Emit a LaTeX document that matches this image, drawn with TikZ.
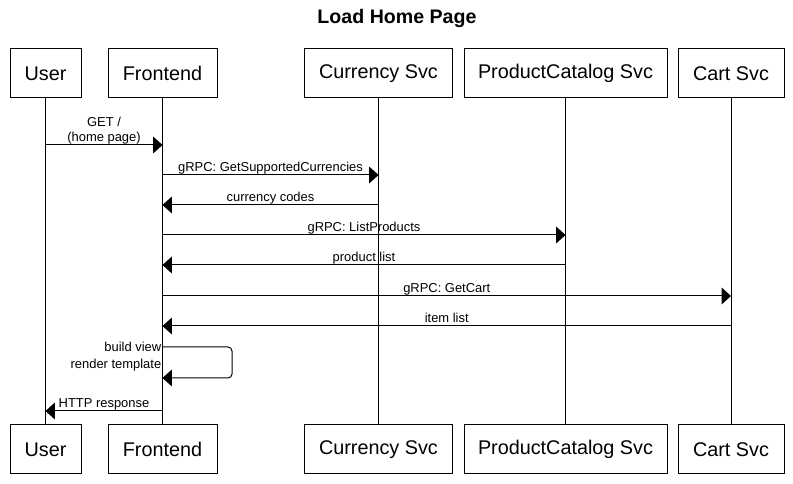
\documentclass[tikz,border=0pt]{standalone}
\usepackage{fontspec}
\setmainfont{Liberation Sans}
\usetikzlibrary{arrows.meta}
\begin{document}
\begin{tikzpicture}[x=0.75pt,y=-0.75pt,
  actor/.style={draw,line width=0.75pt,minimum height=36.75pt,inner sep=0pt,
    font=\fontsize{14.85}{17}\selectfont},
  life/.style={line width=0.75pt},
  msg/.style={line width=0.75pt,-{Triangle[length=7pt,width=12.5pt]}},
  lbl/.style={font=\fontsize{9.7}{11.25}\selectfont,inner sep=0pt}]
\path[use as bounding box,fill=white] (0,0) rectangle (793,484);
\node[font=\bfseries\fontsize{14.7}{17}\selectfont] (title) at (397,18) {Load Home Page};
% top actors
\node[actor,minimum width=53.25pt] (uT) at (45.5,73.5) {User};
\node[actor,minimum width=81.75pt] (fT) at (162.5,73.5) {Frontend};
\node[actor,minimum width=111pt] (cT) at (378.5,73.5) {Currency Svc};
\node[actor,minimum width=152.25pt] (pT) at (565.5,73.5) {ProductCatalog Svc};
\node[actor,minimum width=79.5pt] (kT) at (731,73.5) {Cart Svc};
% bottom actors
\node[actor,minimum width=53.25pt] (uB) at (45.5,449.5) {User};
\node[actor,minimum width=81.75pt] (fB) at (162.5,449.5) {Frontend};
\node[actor,minimum width=111pt] (cB) at (378.5,449.5) {Currency Svc};
\node[actor,minimum width=152.25pt] (pB) at (565.5,449.5) {ProductCatalog Svc};
\node[actor,minimum width=79.5pt] (kB) at (731,449.5) {Cart Svc};
% lifelines
\draw[life] (uT.south) -- (uB.north);
\draw[life] (fT.south) -- (fB.north);
\draw[life] (cT.south) -- (cB.north);
\draw[life] (pT.south) -- (pB.north);
\draw[life] (kT.south) -- (kB.north);
% message rows
\coordinate (m1) at (0,145);
\coordinate (m2) at (0,175);
\coordinate (m3) at (0,205);
\coordinate (m4) at (0,235);
\coordinate (m5) at (0,265);
\coordinate (m6) at (0,296);
\coordinate (m7) at (0,326);
\coordinate (s1) at (0,347);
\coordinate (s3) at (0,378);
\coordinate (sa) at (232,347);
\coordinate (sb) at (232,378);
\coordinate (m9) at (0,411);
% messages
\draw[msg] (uT |- m1) -- node[lbl,above=0.5pt,align=center] {GET /\\(home page)} (fT |- m1);
\draw[msg] (fT |- m2) -- node[lbl,above=2.6pt,anchor=base] {gRPC: GetSupportedCurrencies} (cT |- m2);
\draw[msg] (cT |- m3) -- node[lbl,above=2.6pt,anchor=base] {currency codes} (fT |- m3);
\draw[msg] (fT |- m4) -- node[lbl,above=2.6pt,anchor=base] {gRPC: ListProducts} (pT |- m4);
\draw[msg] (pT |- m5) -- node[lbl,above=2.6pt,anchor=base] {product list} (fT |- m5);
\draw[msg] (fT |- m6) -- node[lbl,above=2.6pt,anchor=base] {gRPC: GetCart} (kT |- m6);
\draw[msg] (kT |- m7) -- node[lbl,above=2.6pt,anchor=base] {item list} (fT |- m7);
\draw[msg,rounded corners=3pt] (fT |- s1) -- (sa) -- (sb) -- (fT |- s3);
\node[lbl,align=right,anchor=south east,font=\fontsize{9.7}{12.5}\selectfont] (selflbl) at (161.5,371.5) {build view\\render template};
\draw[msg] (fT |- m9) -- node[lbl,above=2.6pt,anchor=base] {HTTP response} (uT |- m9);
\end{tikzpicture}
\end{document}
